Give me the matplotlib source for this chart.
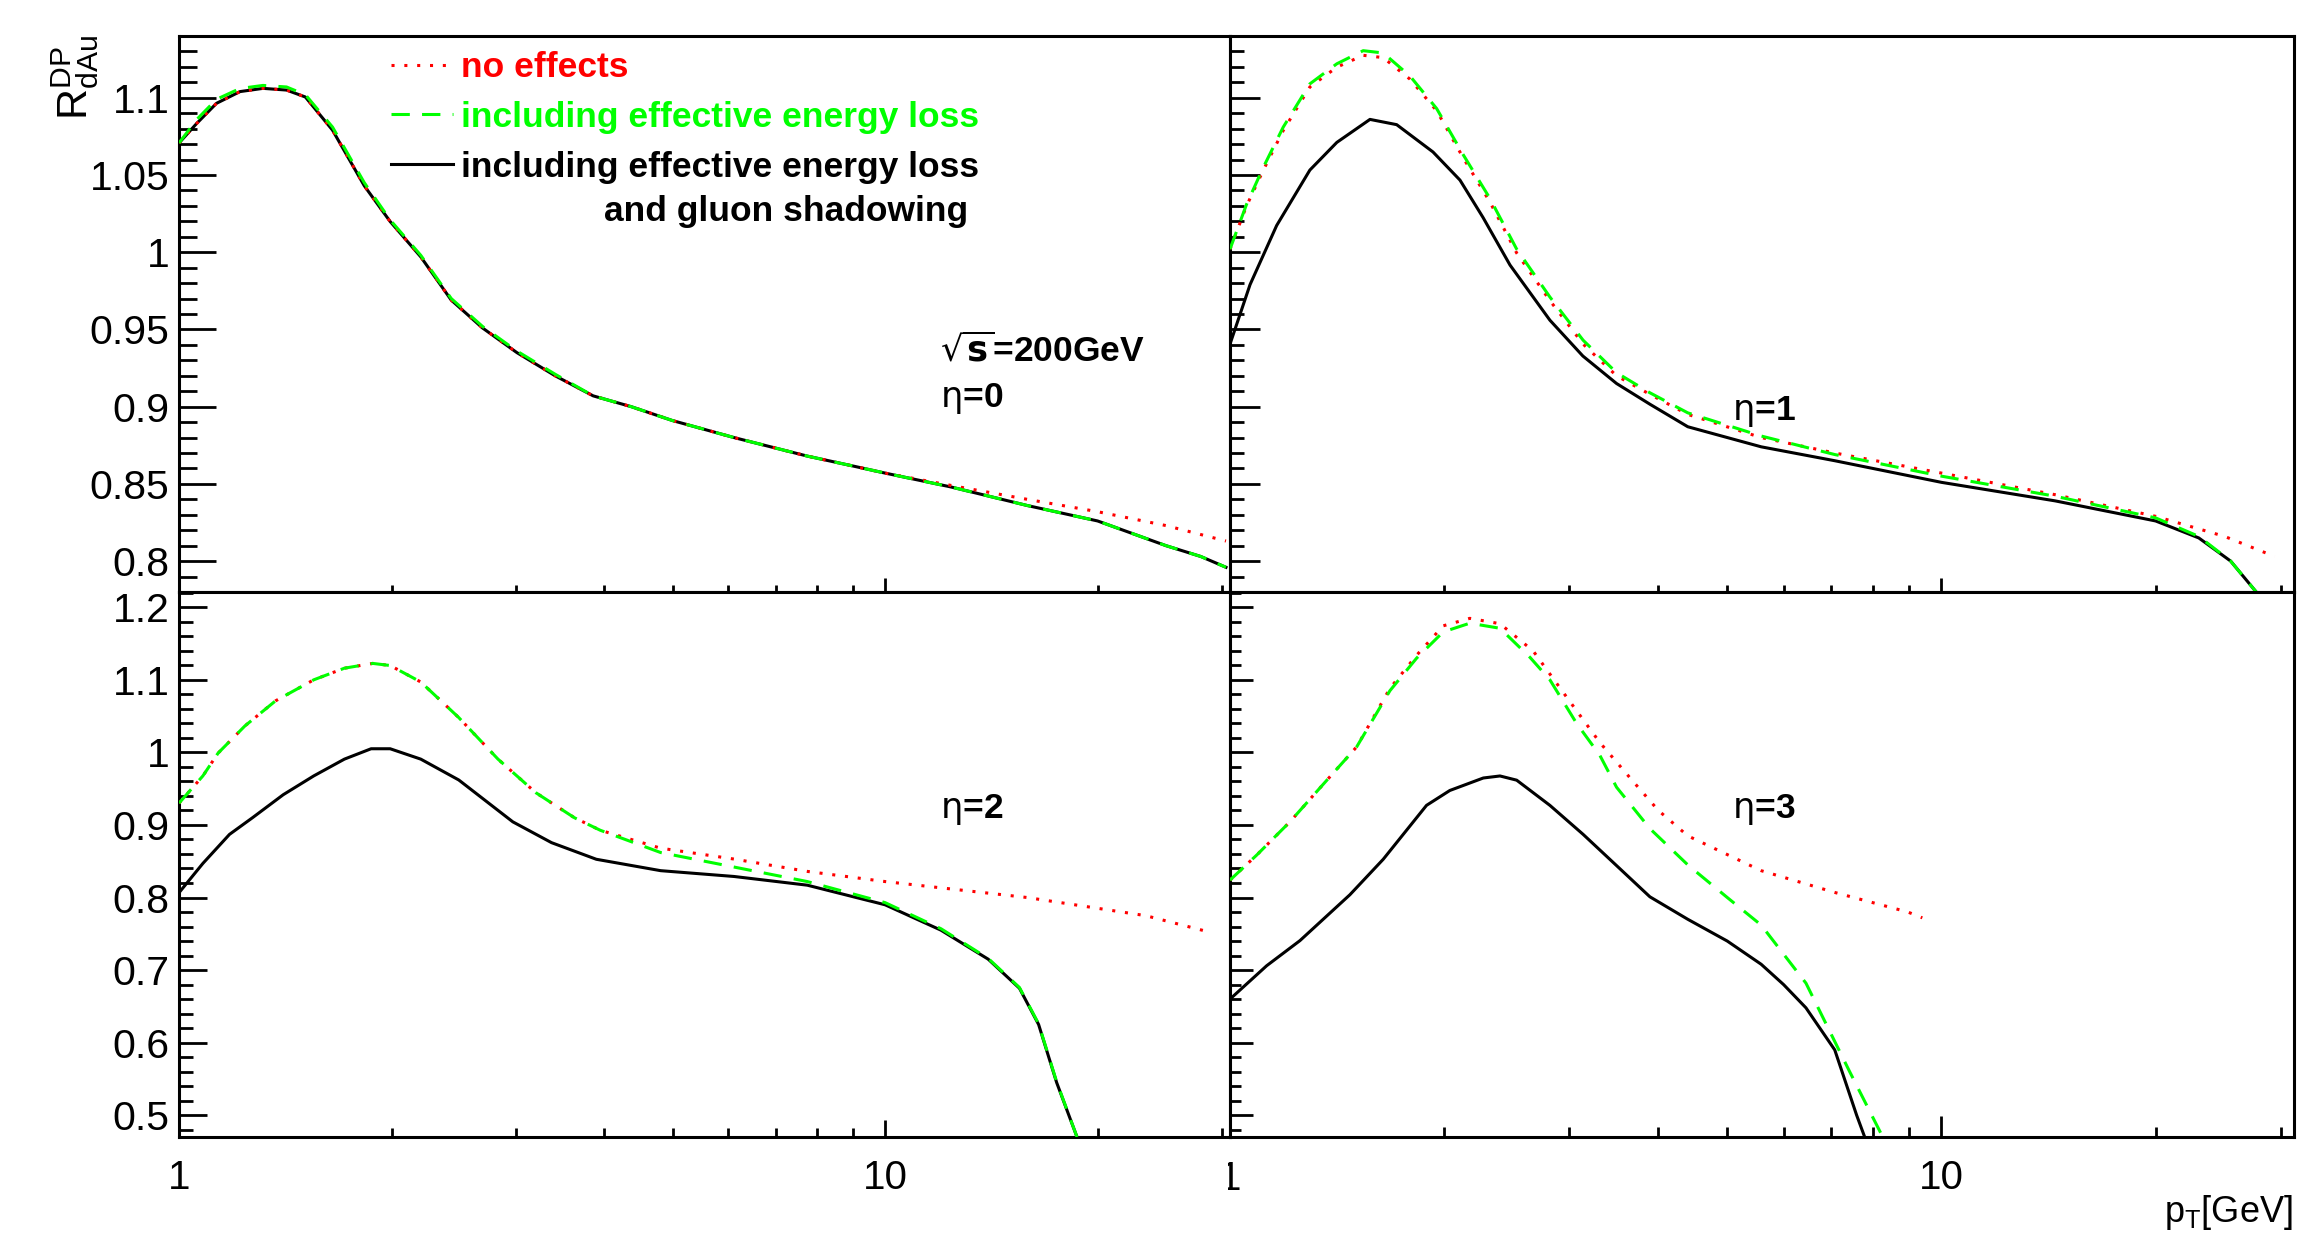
import matplotlib
matplotlib.use('Agg')
import matplotlib.pyplot as plt
from matplotlib.ticker import FixedLocator, NullFormatter, FixedFormatter
from matplotlib.transforms import Bbox, TransformedBbox

plt.rcParams.update({'font.family': ['Liberation Sans', 'DejaVu Sans'],
                     'mathtext.fontset': 'dejavusans'})

# ---- data (pT in GeV, R_dAu) ----
# eta = 0
eta0_shadow_x = [1.0, 1.06, 1.13, 1.22, 1.315, 1.42, 1.51, 1.65, 1.83, 1.99, 2.2, 2.43, 2.69,
                 3.01, 3.41, 3.86, 4.37, 5.0, 6.11, 7.76, 8.92, 10, 12.4, 15.9, 20, 25, 28, 30.4]
eta0_shadow_y = [1.0707, 1.0835, 1.0964, 1.104, 1.1061, 1.105, 1.1005, 1.079, 1.043, 1.020, 0.997,
                 0.969, 0.951, 0.935, 0.920, 0.907, 0.900, 0.891, 0.880, 0.868, 0.862, 0.857,
                 0.848, 0.836, 0.826, 0.810, 0.803, 0.796]
eta0_eloss_x = eta0_shadow_x
eta0_eloss_y = [1.0707, 1.086, 1.099, 1.106, 1.108, 1.107, 1.102, 1.081, 1.045, 1.021, 0.998,
                0.970, 0.952, 0.936, 0.921, 0.907, 0.900, 0.891, 0.880, 0.868, 0.862, 0.857,
                0.848, 0.836, 0.826, 0.810, 0.803, 0.796]
eta0_none_x = [1.0, 1.06, 1.13, 1.22, 1.315, 1.42, 1.51, 1.65, 1.83, 1.99, 2.2, 2.43, 2.69,
               3.01, 3.41, 3.86, 4.37, 5.0, 6.11, 7.76, 8.92, 10, 12.4, 15.9, 20, 25, 30.4]
eta0_none_y = [1.0707, 1.0835, 1.0964, 1.104, 1.1061, 1.105, 1.1005, 1.079, 1.043, 1.020, 0.997,
               0.969, 0.951, 0.935, 0.920, 0.907, 0.900, 0.891, 0.880, 0.868, 0.862, 0.857,
               0.849, 0.840, 0.832, 0.823, 0.813]

# eta = 1
eta1_shadow_x = [1.0, 1.067, 1.163, 1.295, 1.413, 1.573, 1.715, 1.929, 2.105, 2.268, 2.475, 2.816,
                 3.133, 3.494, 3.892, 4.4, 5.58, 7.08, 10, 14.45, 20, 23, 25.5, 27.7]
eta1_shadow_y = [0.9405, 0.979, 1.0173, 1.0532, 1.0711, 1.086, 1.0826, 1.0649, 1.0467, 1.0225,
                 0.9917, 0.956, 0.9328, 0.915, 0.9016, 0.887, 0.874, 0.865, 0.851, 0.839,
                 0.826, 0.815, 0.800, 0.780]
eta1_none_x = [1.0, 1.055, 1.114, 1.188, 1.295, 1.413, 1.539, 1.642, 1.791, 1.952, 2.128, 2.318,
               2.529, 2.816, 3.136, 3.494, 3.892, 4.4, 5.58, 7.08, 10, 14.45, 20, 25, 29.4]
eta1_none_y = [1.002, 1.030, 1.0532, 1.0788, 1.107, 1.1198, 1.1275, 1.126, 1.112, 1.0916, 1.061,
               1.0327, 0.9995, 0.9687, 0.9405, 0.920, 0.908, 0.895, 0.880, 0.870, 0.857,
               0.843, 0.829, 0.816, 0.803]
eta1_eloss_x = [1.0, 1.055, 1.114, 1.188, 1.295, 1.413, 1.539, 1.642, 1.791, 1.952, 2.128, 2.318,
                2.529, 2.816, 3.136, 3.494, 3.892, 4.4, 5.58, 7.08, 10, 14.45, 20, 23, 25.5, 27.7]
eta1_eloss_y = [1.002, 1.031, 1.055, 1.081, 1.109, 1.122, 1.1305, 1.129, 1.114, 1.093, 1.063,
                1.035, 1.002, 0.971, 0.943, 0.922, 0.909, 0.896, 0.881, 0.869, 0.855, 0.842,
                0.828, 0.816, 0.800, 0.780]

# eta = 2
eta2_shadow_x = [1.0, 1.081, 1.179, 1.271, 1.405, 1.552, 1.715, 1.871, 1.991, 2.2, 2.49, 2.97,
                 3.37, 3.9, 4.81, 6.11, 7.76, 10, 12, 14, 15.5, 16.5, 17.5, 18.7]
eta2_shadow_y = [0.8066, 0.847, 0.887, 0.910, 0.9417, 0.9676, 0.9907, 1.005, 1.005, 0.9907, 0.962,
                 0.9043, 0.8756, 0.8527, 0.837, 0.829, 0.817, 0.790, 0.755, 0.715, 0.675, 0.625,
                 0.545, 0.470]
eta2_none_x = [1.0, 1.081, 1.136, 1.24, 1.37, 1.552, 1.715, 1.881, 1.991, 2.2, 2.49, 2.83, 3.2,
               3.63, 3.95, 4.81, 6.11, 7.76, 10, 15.9, 23.4, 28.9]
eta2_none_y = [0.930, 0.9676, 0.999, 1.0365, 1.071, 1.100, 1.116, 1.1226, 1.1197, 1.097, 1.048,
               0.9907, 0.9446, 0.910, 0.8927, 0.868, 0.853, 0.836, 0.822, 0.800, 0.775, 0.752]
eta2_eloss_x = [1.0, 1.081, 1.136, 1.24, 1.37, 1.552, 1.715, 1.881, 1.991, 2.2, 2.49, 2.83, 3.2,
                3.63, 3.95, 4.81, 6.11, 7.76, 10, 12, 14, 15.5, 16.5, 17.5, 18.7]
eta2_eloss_y = [0.930, 0.9676, 0.999, 1.0365, 1.071, 1.100, 1.116, 1.1226, 1.1197, 1.097, 1.048,
                0.9907, 0.9446, 0.910, 0.8927, 0.862, 0.842, 0.822, 0.793, 0.757, 0.716, 0.676,
                0.626, 0.546, 0.470]

# eta = 3
eta3_shadow_x = [1.0, 1.126, 1.254, 1.474, 1.642, 1.889, 2.037, 2.27, 2.396, 2.529, 2.816, 3.136,
                 3.494, 3.892, 4.4, 5.0, 5.58, 6.0, 6.45, 7.08, 7.6, 7.8]
eta3_shadow_y = [0.660, 0.706, 0.7406, 0.8038, 0.8527, 0.927, 0.9475, 0.9647, 0.9675, 0.9617,
                 0.927, 0.887, 0.844, 0.801, 0.770, 0.740, 0.708, 0.680, 0.648, 0.590, 0.500,
                 0.470]
eta3_none_x = [1.0, 1.09, 1.214, 1.352, 1.507, 1.678, 1.83, 1.994, 2.173, 2.396, 2.667, 2.97,
               3.31, 3.686, 4.0, 4.4, 5.58, 7.08, 8.97, 9.4]
eta3_none_y = [0.824, 0.8584, 0.9043, 0.956, 1.0077, 1.0882, 1.134, 1.1744, 1.1847, 1.1773,
               1.1399, 1.0767, 1.0136, 0.960, 0.920, 0.885, 0.837, 0.807, 0.780, 0.772]
eta3_eloss_x = [1.0, 1.09, 1.214, 1.352, 1.507, 1.678, 1.83, 1.994, 2.173, 2.396, 2.64, 2.816,
                3.07, 3.31, 3.494, 3.892, 4.4, 5.0, 5.58, 6.45, 7.43, 8.27]
eta3_eloss_y = [0.824, 0.8584, 0.9043, 0.956, 1.0077, 1.085, 1.130, 1.166, 1.178, 1.171, 1.131,
                1.100, 1.040, 0.996, 0.952, 0.895, 0.845, 0.800, 0.762, 0.682, 0.560, 0.470]

labels = ['no effects', 'including effective energy loss', 'including effective energy loss']
eta_text = [r'$\mathrm{\eta}$=0', r'$\mathrm{\eta}$=1', r'$\mathrm{\eta}$=2', r'$\mathrm{\eta}$=3']

W, H = 2302, 1233
fig = plt.figure(figsize=(W / 100, H / 100), dpi=100)


def px_axes(x0, x1, y0, y1):
    # pixel box (top-left origin) -> figure fraction axes
    return fig.add_axes([x0 / W, 1 - y1 / H, (x1 - x0) / W, (y1 - y0) / H])


ax_tl = px_axes(179, 1230, 36, 592)
ax_tr = px_axes(1230, 2294, 36, 592)
ax_bl = px_axes(179, 1230, 592, 1137)
ax_br = px_axes(1230, 2294, 592, 1137)

panels = [
    (ax_tl, eta0_none_x, eta0_none_y, eta0_eloss_x, eta0_eloss_y, eta0_shadow_x, eta0_shadow_y),
    (ax_tr, eta1_none_x, eta1_none_y, eta1_eloss_x, eta1_eloss_y, eta1_shadow_x, eta1_shadow_y),
    (ax_bl, eta2_none_x, eta2_none_y, eta2_eloss_x, eta2_eloss_y, eta2_shadow_x, eta2_shadow_y),
    (ax_br, eta3_none_x, eta3_none_y, eta3_eloss_x, eta3_eloss_y, eta3_shadow_x, eta3_shadow_y),
]

lw = 2.2
handles = None
for ax, nx_, ny_, ex_, ey_, sx_, sy_ in panels:
    l3, = ax.plot(sx_, sy_, color='black', lw=lw, zorder=3)
    l1, = ax.plot(nx_, ny_, color='red', lw=lw, dashes=(1, 3.2), zorder=4)
    l2, = ax.plot(ex_, ey_, color='#00ff00', lw=lw, dashes=(6, 4), zorder=5)
    if handles is None:
        handles = [l1, l2, l3]

# axis ranges and ticks
xminor = [2, 3, 4, 5, 6, 7, 8, 9, 20, 30]
tick_len = {ax_tl: (26.6, 13, 10, 5), ax_tr: (21.6, 10, 10, 5),
            ax_bl: (20, 10, 12, 6.5), ax_br: (16.5, 8, 15, 7)}
for ax in (ax_tl, ax_tr, ax_bl, ax_br):
    ax.set_xscale('log')
    ax.set_xlim(1, 30.8 if ax in (ax_tl, ax_bl) else 31.3)
    ax.xaxis.set_major_locator(FixedLocator([1, 10]))
    ax.xaxis.set_minor_locator(FixedLocator(xminor))
    ax.xaxis.set_minor_formatter(NullFormatter())
    for s in ax.spines.values():
        s.set_linewidth(2.2)
    ymaj, ymin_, xmaj, xmin_ = tick_len[ax]
    ax.tick_params(axis='y', which='major', direction='in', length=ymaj, width=2, left=True,
                   right=False, labelsize=29.5, pad=7)
    ax.tick_params(axis='y', which='minor', direction='in', length=ymin_, width=2, left=True,
                   right=False)
    ax.tick_params(axis='x', which='major', direction='in', length=xmaj, width=2, top=False,
                   labelsize=29, pad=16)
    ax.tick_params(axis='x', which='minor', direction='in', length=xmin_, width=2, top=False)

for ax in (ax_tl, ax_tr):
    ax.set_ylim(0.78, 1.14)
    ax.yaxis.set_major_locator(FixedLocator([0.8, 0.85, 0.9, 0.95, 1.0, 1.05, 1.1]))
    ax.yaxis.set_minor_locator(FixedLocator([0.78 + 0.01 * i for i in range(37)]))
    ax.set_xticklabels([])
for ax in (ax_bl, ax_br):
    ax.set_ylim(0.47, 1.221)
    ax.yaxis.set_major_locator(FixedLocator([0.5, 0.6, 0.7, 0.8, 0.9, 1.0, 1.1, 1.2]))
    ax.yaxis.set_minor_locator(FixedLocator([0.48 + 0.02 * i for i in range(38)]))
for ax in (ax_tr, ax_br):
    ax.set_yticklabels([])

ax_tl.yaxis.set_major_formatter(FixedFormatter(['0.8', '0.85', '0.9', '0.95', '1', '1.05', '1.1']))
ax_bl.yaxis.set_major_formatter(FixedFormatter(['0.5', '0.6', '0.7', '0.8', '0.9', '1', '1.1', '1.2']))
ax_bl.xaxis.set_major_formatter(FixedFormatter(['1', '10']))
ax_br.xaxis.set_major_formatter(FixedFormatter(['', '10']))

# the "1" of the right panel is cut by the pad edge in the original
one = fig.text(1230 / W, 1 - 1160 / H, '1', fontsize=29, ha='center', va='top')
one.set_clip_box(TransformedBbox(Bbox([[1228 / W, 0], [1, 1]]), fig.transFigure))
one.set_clip_on(True)

# legend
leg = ax_tl.legend(handles, labels, loc='upper left', bbox_to_anchor=(391 / W, 1 - 51 / H),
                   bbox_transform=fig.transFigure, frameon=False, borderpad=0, borderaxespad=0,
                   handlelength=1.75, handletextpad=0.22, labelspacing=0.475,
                   prop={'weight': 'bold', 'size': 25.5}, labelcolor='linecolor')
fig.text(604 / W, 1 - 221 / H, 'and gluon shadowing', fontsize=25.5, fontweight='bold',
         va='baseline', ha='left')

# annotations
fig.text(940 / W, 1 - 361 / H, r'$\mathbf{\sqrt{s}}$=200GeV', fontsize=25.5, fontweight='bold',
         va='baseline', ha='left')
for (xp, yp), s in zip([(940, 407), (1732, 420), (940, 818), (1732, 818)], eta_text):
    fig.text(xp / W, 1 - yp / H, s, fontsize=25.5, fontweight='bold', va='baseline', ha='left')

# axis titles
fig.text(75 / W, 1 - 35 / H, r'$\mathregular{R^{DP}_{dAu}}$', fontsize=31, rotation=90,
         ha='center', va='top')
fig.text(2293 / W, 1 - 1222 / H, r'$\mathregular{p_{T}}$[GeV]', fontsize=26, ha='right',
         va='baseline')

fig.savefig('out.png', dpi=100, facecolor='white')
